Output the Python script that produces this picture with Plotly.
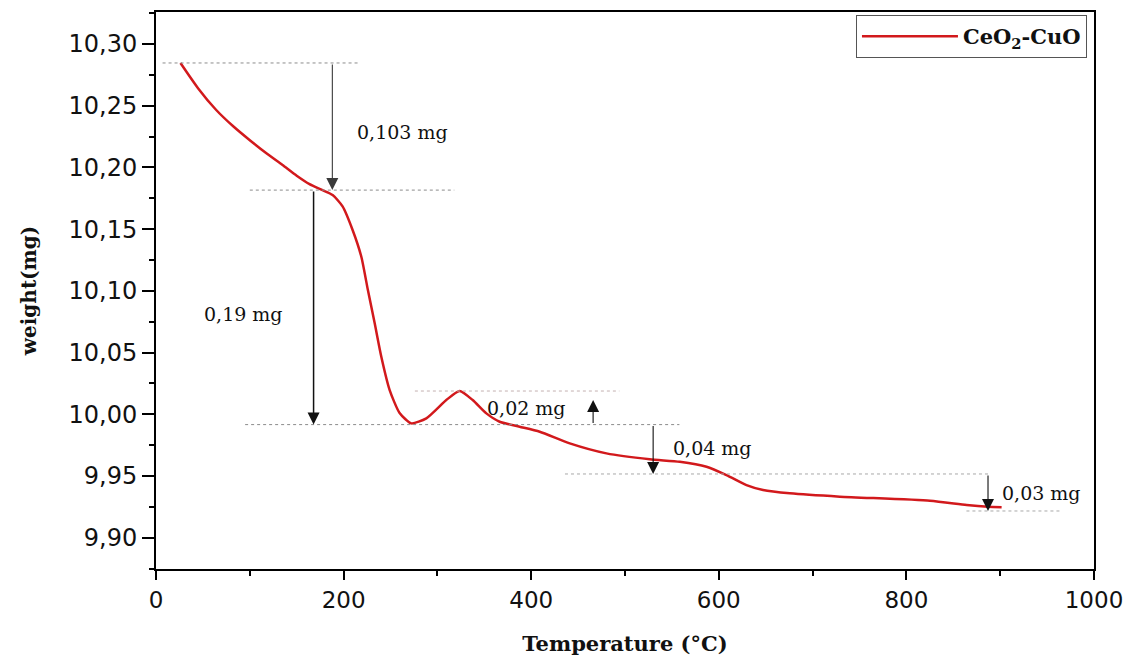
import plotly.graph_objects as go

# TGA curve of the CeO2-CuO sample
temperature_c = [26.1, 45.0, 64.2, 82.0, 99.7, 117.0, 134.9, 150.0, 163.7, 177.0, 188.3,
                 198.9, 209.6, 218.9, 225.9, 233.1, 240.2, 249.1, 259.7, 272.2, 288.2,
                 309.5, 323.7, 337.6, 352.2, 366.4, 387.7, 409.1, 441.1, 480.2, 526.4,
                 558.4, 586.9, 608.2, 629.5, 647.2, 675.7, 729.1, 825.1, 864.2, 886.9, 901.5]
weight_mg = [10.2846, 10.2640, 10.2465, 10.2335, 10.2222, 10.2118, 10.2019, 10.1932, 10.1864, 10.1817, 10.1776,
             10.1684, 10.1493, 10.1276, 10.1006, 10.0739, 10.0466, 10.0196, 10.0010, 9.9926, 9.9967,
             10.0115, 10.0188, 10.0115, 10.0007, 9.9939, 9.9899, 9.9858, 9.9764, 9.9683, 9.9635,
             9.9615, 9.9575, 9.9507, 9.9426, 9.9386, 9.9359, 9.9332, 9.9299, 9.9264, 9.9250, 9.9246]

# Mass steps (mg) marked on the curve; sign gives direction of change
step_labels = ["0,103 mg", "0,19 mg", "0,02 mg", "0,04 mg", "0,03 mg"]
step_values = [-0.103, -0.19, 0.02, -0.04, -0.03]
step_arrow_x = [188, 168, 466, 530, 887]
step_label_x = [263, 93, 395, 593, 944]
step_label_y = [10.2287, 10.0812, 10.0050, 9.9726, 9.9361]

# Start mass and the peak of the small gain step
start_mass = 10.2846
peak_mass = 10.0188

# Horizontal guide lines: (x-start, x-end)
guide_spans_top = [(7, 217), (100, 318), (95, 558)]
peak_span = (276, 494)
guide_spans_low = [(436, 889), (864, 966)]

x_tick_vals = [0, 200, 400, 600, 800, 1000]
x_tick_text = ["0", "200", "400", "600", "800", "1000"]
y_tick_vals = [9.90, 9.95, 10.00, 10.05, 10.10, 10.15, 10.20, 10.25, 10.30]
y_tick_text = ["9,90", "9,95", "10,00", "10,05", "10,10", "10,15", "10,20", "10,25", "10,30"]

SERIF = "DejaVu Serif"
SANS = "DejaVu Sans"
RED = "#d2191c"
GUIDE = "#8c8c8c"

fig = go.Figure()
fig.add_trace(go.Scatter(
    x=temperature_c, y=weight_mg, mode="lines",
    line=dict(color=RED, width=2.5, shape="spline", smoothing=0.6),
    name="<b>CeO<sub>2</sub>-CuO</b>",
))

# Arrow bases: losses run down from the previous level, the gain rises from the 0,19 mg level,
# and the following losses start again from that level
base_levels = [start_mass]
base_levels.append(base_levels[0] + step_values[0])
plateau = base_levels[1] + step_values[1]
base_levels += [plateau, plateau, plateau + step_values[3]]
tip_levels = [b + v for b, v in zip(base_levels, step_values)]

shapes = []
for (x0, x1), yv in zip(guide_spans_top, base_levels[:3]):
    shapes.append(dict(type="line", xref="x", yref="y", x0=x0, x1=x1, y0=yv, y1=yv,
                       line=dict(color=GUIDE, width=1, dash="dot")))
shapes.append(dict(type="line", xref="x", yref="y", x0=peak_span[0], x1=peak_span[1],
                   y0=peak_mass, y1=peak_mass, line=dict(color="#c4b0b0", width=1, dash="dot")))
for (x0, x1), yv in zip(guide_spans_low, [tip_levels[3], tip_levels[4]]):
    shapes.append(dict(type="line", xref="x", yref="y", x0=x0, x1=x1, y0=yv, y1=yv,
                       line=dict(color="#a8a8a8", width=1, dash="dot")))

annotations = []
for i in range(len(step_values)):
    b, t = base_levels[i], tip_levels[i]
    w = 1.5 if i == 1 else 1.1
    annotations.append(dict(
        x=step_arrow_x[i], y=t, ax=step_arrow_x[i], ay=b,
        xref="x", yref="y", axref="x", ayref="y",
        text="", showarrow=True, arrowhead=2, arrowsize=2.4 / w, arrowwidth=w,
        arrowcolor="#111111" if i != 0 else "#3a3a3a", standoff=0, startstandoff=0,
    ))
    annotations.append(dict(
        x=step_label_x[i], y=step_label_y[i], xref="x", yref="y",
        text=step_labels[i], showarrow=False,
        font=dict(family=SERIF, size=19, color="#111111"),
    ))

fig.update_layout(
    width=1130, height=656,
    margin=dict(l=156, r=36, t=12, b=87),
    paper_bgcolor="white", plot_bgcolor="white",
    shapes=shapes, annotations=annotations,
    showlegend=True,
    legend=dict(
        x=0.9925, y=0.9946, xanchor="right", yanchor="top",
        bordercolor="#555555", borderwidth=1, bgcolor="white",
        font=dict(family=SERIF, size=21, color="#111111"),
        itemwidth=96,
    ),
    xaxis=dict(
        range=[0, 1000], tickvals=x_tick_vals, ticktext=x_tick_text, automargin=False,
        showgrid=False, zeroline=False, showline=True, linecolor="black", linewidth=2,
        mirror=True, ticks="outside", ticklen=9, tickwidth=2, tickcolor="black",
        minor=dict(dtick=100, ticks="outside", ticklen=5, tickwidth=2, tickcolor="black"),
        tickfont=dict(family=SANS, size=23, color="#111111"),
        title=dict(text="<b>Temperature (°C)</b>", font=dict(family=SERIF, size=21, color="#111111"),
                   standoff=26),
    ),
    yaxis=dict(
        range=[9.8746, 10.3259], tickvals=y_tick_vals, ticktext=y_tick_text, automargin=False,
        showgrid=False, zeroline=False, showline=True, linecolor="black", linewidth=2,
        mirror=True, ticks="outside", ticklen=12, tickwidth=2, tickcolor="black",
        minor=dict(dtick=0.025, tick0=9.90, ticks="outside", ticklen=5, tickwidth=2, tickcolor="black"),
        tickfont=dict(family=SANS, size=24, color="#111111"),
        title=dict(text="<b>weight(mg)</b>", font=dict(family=SERIF, size=20, color="#111111"),
                   standoff=26),
    ),
)

fig.write_html("out.html")
